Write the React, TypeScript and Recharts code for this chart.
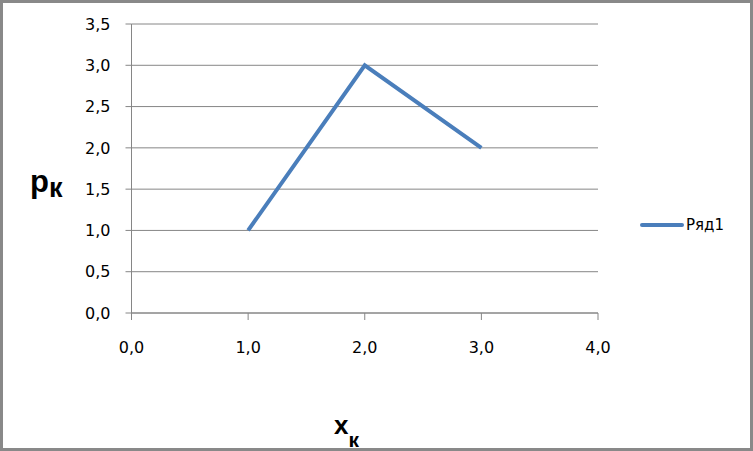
import React from 'react';
import { LineChart, Line, XAxis, YAxis, CartesianGrid, Legend, Customized } from 'recharts';

const xValues = [1, 2, 3];
const seriesValues = [1, 3, 2];
const seriesName = 'Ряд1';
const xTicks = [0, 1, 2, 3, 4];
const yTicks = [0, 0.5, 1, 1.5, 2, 2.5, 3, 3.5];

const data = xValues.map((x, i) => ({ x, y: seriesValues[i] }));

const fmt = (v: number) => v.toFixed(1).replace('.', ',');
const FONT = '"DejaVu Sans", sans-serif';
const TITLE_FONT = '"Liberation Sans", Arial, sans-serif';
const AXIS = '#868686';
const BLUE = '#4a7ebb';

const Titles = () => (
  <g>
    <rect x={1.5} y={1.5} width={750} height={448} fill="none" stroke="#898989" strokeWidth={3} />
    <text x={30} y={192} fontFamily={TITLE_FONT} fontWeight="bold" fontSize={31} fill="#000">
      p
      <tspan fontSize={27} dy={5}>к</tspan>
    </text>
    <text x={334} y={434} fontFamily={TITLE_FONT} fontWeight="bold" fontSize={26} fill="#000">
      x
      <tspan fontSize={21} dy={13}>к</tspan>
    </text>
  </g>
);

const LegendContent = () => (
  <div style={{ display: 'flex', alignItems: 'center', fontFamily: FONT, fontSize: 15, color: '#000' }}>
    <svg width={44} height={8} style={{ display: 'block' }}>
      <line x1={2} y1={4} x2={42} y2={4} stroke={BLUE} strokeWidth={4} strokeLinecap="round" />
    </svg>
    <span style={{ marginLeft: 2 }}>{seriesName}</span>
  </div>
);

export default function App() {
  return (
    <div style={{ position: 'absolute', left: 0, top: 0, width: 753, height: 451, background: '#fff' }}>
      <LineChart width={753} height={451} data={data} margin={{ top: 24, right: 155, bottom: 108, left: 0 }}>
        <CartesianGrid vertical={false} stroke={AXIS} strokeWidth={1} />
        <XAxis
          dataKey="x"
          type="number"
          domain={[0, 4]}
          ticks={xTicks}
          tickFormatter={fmt}
          height={30}
          stroke={AXIS}
          tickSize={7}
          tickMargin={22}
          tick={{ fill: '#000', fontFamily: FONT, fontSize: 16 }}
        />
        <YAxis
          type="number"
          domain={[0, 3.5]}
          ticks={yTicks}
          tickFormatter={fmt}
          width={131.5}
          stroke={AXIS}
          tickSize={6}
          tickMargin={15}
          tick={{ fill: '#000', fontFamily: FONT, fontSize: 16 }}
        />
        <Legend
          layout="horizontal"
          verticalAlign="middle"
          align="center"
          content={<LegendContent />}
          wrapperStyle={{ position: 'absolute', left: 640, top: 216, width: 110 }}
        />
        <Line
          dataKey="y"
          name={seriesName}
          stroke={BLUE}
          strokeWidth={4}
          dot={false}
          isAnimationActive={false}
        />
        <Customized component={Titles} />
      </LineChart>
    </div>
  );
}
